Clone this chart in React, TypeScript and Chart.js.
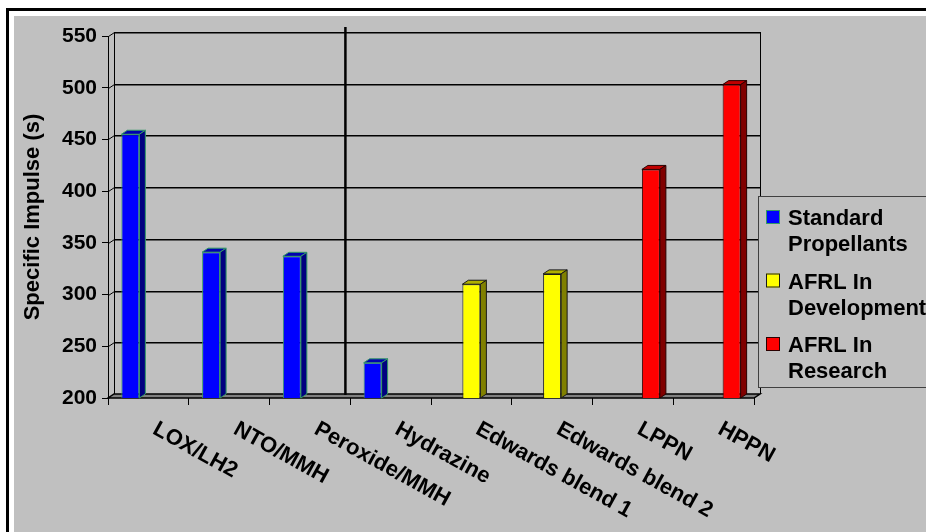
import { useEffect, useRef } from "react";
import { Chart, registerables } from "chart.js";

Chart.register(...registerables);

const CATEGORIES = [
  "LOX/LH2",
  "NTO/MMH",
  "Peroxide/MMH",
  "Hydrazine",
  "Edwards blend 1",
  "Edwards blend 2",
  "LPPN",
  "HPPN",
];
const SERIES_NAMES = ["Standard Propellants", "AFRL In Development", "AFRL In Research"];
const LEGEND_LINES = [
  ["Standard", "Propellants"],
  ["AFRL In", "Development"],
  ["AFRL In", "Research"],
];
const STANDARD = [455, 341, 337, 234, null, null, null, null];
const DEVELOPMENT = [null, null, null, null, 310, 320, null, null];
const RESEARCH = [null, null, null, null, null, null, 421, 503];

const Y_MIN = 200;
const Y_MAX = 550;
const Y_STEP = 50;
const Y_TITLE = "Specific Impulse (s)";
const SEPARATOR_AT = 2.44;

const FRONT = ["#0000FF", "#FFFF00", "#FF0000"];
const TOP = ["#0000B0", "#B0B000", "#C00000"];
const SIDE = ["#000080", "#808000", "#800000"];
const EDGE = ["#339966", "#1a1a1a", "#2a0000"];

const FONT = "'Liberation Sans', Arial, Helvetica, sans-serif";
const DX = 6;
const DY = 4;
const LABEL_ANGLE = 29;

const threeD = {
  id: "threeD",
  beforeDraw(chart: any) {
    const { ctx, width, height } = chart;
    ctx.save();
    ctx.fillStyle = "#FFFFFF";
    ctx.fillRect(0, 0, width, height);
    ctx.fillStyle = "#000000";
    ctx.fillRect(6, 8, width, 3);
    ctx.fillRect(6, 8, 3, height);
    ctx.fillStyle = "#C0C0C0";
    ctx.fillRect(14, 16, width, height);
    ctx.restore();
  },
  beforeDatasetsDraw(chart: any) {
    const { ctx, chartArea } = chart;
    const y = chart.scales.y;
    const { left, right, top, bottom } = chartArea;
    ctx.save();
    ctx.lineWidth = 1;
    y.ticks.forEach((t: any) => {
      const yf = Math.round(y.getPixelForValue(t.value));
      const yb = yf - DY;
      if (t.value !== Y_MIN) {
        ctx.strokeStyle = "#606060";
        ctx.beginPath();
        ctx.moveTo(left + DX, yb + 1.5);
        ctx.lineTo(right + DX, yb + 1.5);
        ctx.stroke();
      }
      ctx.strokeStyle = "#000000";
      ctx.beginPath();
      ctx.moveTo(left + DX, yb + 0.5);
      ctx.lineTo(right + DX, yb + 0.5);
      ctx.stroke();
      ctx.beginPath();
      ctx.moveTo(left + 0.5, yf + 0.5);
      ctx.lineTo(left + DX + 0.5, yb + 0.5);
      ctx.stroke();
    });
    ctx.strokeStyle = "#000000";
    ctx.beginPath();
    ctx.moveTo(left + DX + 0.5, top - DY);
    ctx.lineTo(left + DX + 0.5, bottom - DY);
    ctx.moveTo(right + DX + 0.5, top - DY);
    ctx.lineTo(right + DX + 0.5, bottom - DY);
    ctx.stroke();
    ctx.beginPath();
    ctx.moveTo(left + 0.5, top);
    ctx.lineTo(left + 0.5, bottom);
    ctx.stroke();
    const yb0 = Math.round(bottom);
    ctx.beginPath();
    ctx.moveTo(left, yb0);
    ctx.lineTo(right, yb0);
    ctx.lineTo(right + DX, yb0 - DY);
    ctx.lineTo(left + DX, yb0 - DY);
    ctx.closePath();
    ctx.fillStyle = "#808080";
    ctx.fill();
    ctx.strokeStyle = "#000000";
    ctx.lineWidth = 1.5;
    ctx.stroke();
    ctx.restore();
  },
  afterDatasetsDraw(chart: any) {
    const { ctx, chartArea } = chart;
    ctx.save();
    chart.data.datasets.forEach((ds: any, di: number) => {
      const meta = chart.getDatasetMeta(di);
      meta.data.forEach((el: any, i: number) => {
        if (ds.data[i] == null) return;
        const p = el.getProps(["x", "y", "base", "width"], true);
        const x = p.x;
        const y = p.y;
        const width = p.width;
        const base = Math.min(p.base, chartArea.bottom);
        const l = x - width / 2;
        const r = x + width / 2;
        ctx.lineWidth = 1;
        ctx.strokeStyle = EDGE[di];
        ctx.fillStyle = TOP[di];
        ctx.beginPath();
        ctx.moveTo(l, y);
        ctx.lineTo(l + DX, y - DY);
        ctx.lineTo(r + DX, y - DY);
        ctx.lineTo(r, y);
        ctx.closePath();
        ctx.fill();
        ctx.stroke();
        ctx.fillStyle = SIDE[di];
        ctx.beginPath();
        ctx.moveTo(r, y);
        ctx.lineTo(r + DX, y - DY);
        ctx.lineTo(r + DX, base - DY);
        ctx.lineTo(r, base);
        ctx.closePath();
        ctx.fill();
        ctx.stroke();
      });
    });
    const xs = chart.scales.x.getPixelForValue(SEPARATOR_AT);
    ctx.strokeStyle = "#000000";
    ctx.lineWidth = 2.5;
    ctx.beginPath();
    ctx.moveTo(xs, chartArea.top - 9);
    ctx.lineTo(xs, chartArea.bottom - 3);
    ctx.stroke();
    ctx.restore();
  },
  afterDraw(chart: any) {
    const { ctx, chartArea } = chart;
    const xScale = chart.scales.x;
    ctx.save();
    ctx.font = `bold 22px ${FONT}`;
    ctx.fillStyle = "#000000";
    ctx.textAlign = "left";
    ctx.textBaseline = "alphabetic";
    CATEGORIES.forEach((c, i) => {
      const x = xScale.getPixelForValue(i);
      ctx.save();
      ctx.translate(x + 3, chartArea.bottom + 35);
      ctx.rotate((LABEL_ANGLE * Math.PI) / 180);
      ctx.fillText(c, 0, 0);
      ctx.restore();
    });
    const bx = chartArea.right + 4;
    const by = 196;
    ctx.fillStyle = "#C0C0C0";
    ctx.fillRect(bx, by, chart.width, 191);
    ctx.strokeStyle = "#404040";
    ctx.lineWidth = 1;
    ctx.strokeRect(bx + 0.5, by + 0.5, chart.width, 191);
    ctx.font = `bold 22px ${FONT}`;
    LEGEND_LINES.forEach((lines, k) => {
      const base = by + 29 + k * 63.5;
      ctx.fillStyle = FRONT[k];
      ctx.fillRect(bx + 8, base - 15, 14, 14);
      ctx.strokeStyle = EDGE[k];
      ctx.strokeRect(bx + 8.5, base - 14.5, 13, 13);
      ctx.fillStyle = "#000000";
      lines.forEach((ln, j) => {
        ctx.fillText(ln, bx + 30, base + j * 26);
      });
    });
    ctx.restore();
  },
};

export default function App() {
  const ref = useRef<HTMLCanvasElement | null>(null);
  useEffect(() => {
    if (!ref.current) return;
    const mk = (data: (number | null)[], k: number) => ({
      label: SERIES_NAMES[k],
      data,
      backgroundColor: FRONT[k],
      borderColor: EDGE[k],
      borderWidth: 1,
      barPercentage: 1,
      categoryPercentage: 0.669,
    });
    const chart = new Chart(ref.current, {
      type: "bar",
      data: {
        labels: CATEGORIES,
        datasets: [mk(STANDARD, 0), mk(DEVELOPMENT, 1), mk(RESEARCH, 2)],
      },
      options: {
        animation: false,
        responsive: false,
        devicePixelRatio: 1,
        layout: { padding: { top: 36, right: 172, left: 0, bottom: 0 } },
        plugins: { legend: { display: false }, tooltip: { enabled: false } },
        scales: {
          x: {
            offset: true,
            grid: { offset: true, drawOnChartArea: false, tickLength: 7, color: "#000000", lineWidth: 1 },
            border: { display: false },
            ticks: { display: false },
            afterFit: (s: any) => {
              s.height = 134;
            },
          },
          y: {
            min: Y_MIN,
            max: Y_MAX,
            ticks: {
              stepSize: Y_STEP,
              color: "#000000",
              padding: 5,
              font: { family: FONT, size: 21, weight: "bold" },
            },
            grid: { drawOnChartArea: false, tickLength: 6, color: "#000000", lineWidth: 1 },
            border: { display: false },
            title: {
              display: true,
              text: Y_TITLE,
              color: "#000000",
              font: { family: FONT, size: 22, weight: "bold" },
              padding: { top: 20, bottom: 0 },
            },
            afterFit: (s: any) => {
              s.width = 108;
            },
          },
        },
      } as any,
      plugins: [threeD],
    });
    return () => chart.destroy();
  }, []);
  return (
    <div style={{ position: "fixed", left: 0, top: 0, width: 926, height: 532 }}>
      <canvas ref={ref} width={926} height={532} style={{ width: 926, height: 532, display: "block" }} />
    </div>
  );
}
